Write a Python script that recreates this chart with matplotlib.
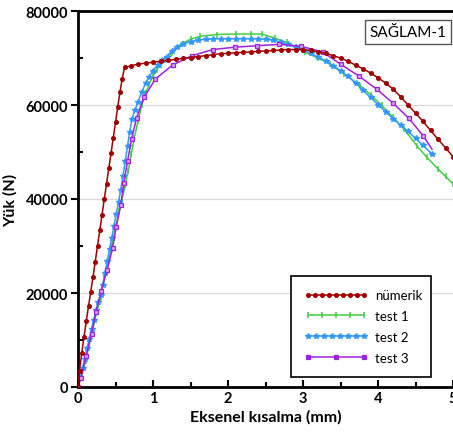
import matplotlib
matplotlib.use('Agg')
import matplotlib.pyplot as plt
from matplotlib.lines import Line2D
from matplotlib.legend_handler import HandlerLine2D
from matplotlib.ticker import MultipleLocator

plt.rcParams['font.family'] = ['Lato', 'DejaVu Sans']

# numerical model
num_x = [0, 0.02, 0.05, 0.08, 0.11, 0.14, 0.17, 0.20, 0.23, 0.26, 0.29, 0.32,
         0.35, 0.38, 0.41, 0.44, 0.47, 0.50, 0.53, 0.56, 0.59, 0.62,
         0.7, 0.8, 0.9, 1.0, 1.1, 1.2, 1.3, 1.4, 1.5, 1.6, 1.7, 1.8, 1.9, 2.0,
         2.1, 2.2, 2.3, 2.4, 2.5, 2.6, 2.7, 2.8, 2.9, 3.0, 3.1, 3.2, 3.3, 3.4,
         3.5, 3.6, 3.7, 3.8, 3.9, 4.0, 4.1, 4.2, 4.3, 4.4, 4.5, 4.6, 4.7, 4.8,
         4.9, 5.0]
num_y = [0, 3500, 7200, 10700, 14000, 17200, 20300, 23400, 26700, 30000, 33300, 36600,
         39900, 43200, 46500, 49700, 53000, 56300, 59600, 62800, 65600, 68000,
         68300, 68700, 68900, 69100, 69300, 69500, 69700, 69900, 70100, 70300, 70500, 70700, 70900, 71000,
         71100, 71200, 71300, 71400, 71500, 71600, 71700, 71800, 71800, 71800, 71600, 71300, 71000, 70500,
         70000, 69300, 68500, 67700, 66800, 65800, 64700, 63400, 61800, 60000, 58300, 56500, 54600, 52700,
         50900, 49000]

# test 1
t1_x = [0, 0.05, 0.1, 0.15, 0.2, 0.25, 0.3, 0.35, 0.4, 0.45, 0.5, 0.55, 0.59, 0.63,
        0.67, 0.71, 0.75, 0.8, 0.85, 0.9, 0.95, 1.0, 1.05, 1.1, 1.16, 1.25, 1.38,
        1.5, 1.63, 1.85, 2.1, 2.3, 2.45, 2.63, 2.78, 2.9, 3.03, 3.2, 3.36, 3.55,
        3.76, 3.9, 4.05, 4.2, 4.35, 4.52, 4.65, 4.8, 4.9, 5.0]
t1_y = [0, 2500, 5500, 9000, 12500, 16000, 19000, 23000, 26500, 30000, 34000, 37500, 40000, 43000,
        46000, 49500, 53000, 56500, 60000, 62500, 64500, 66200, 67500, 68600, 69600, 71000, 73000,
        74000, 74600, 75000, 75100, 75100, 75100, 74200, 73300, 72300, 71200, 70000, 68700, 66600,
        64100, 62200, 59900, 57400, 54800, 51300, 48900, 46400, 44800, 43200]

# test 2
t2_x = [0, 0.03, 0.06, 0.09, 0.12, 0.15, 0.18, 0.21, 0.24, 0.27, 0.30, 0.33, 0.36,
        0.39, 0.42, 0.45, 0.48, 0.51, 0.54, 0.57, 0.60, 0.63, 0.66, 0.69, 0.72,
        0.76, 0.80, 0.85, 0.90, 0.95, 1.0, 1.06, 1.12, 1.18, 1.25, 1.32, 1.4, 1.5,
        1.6, 1.7, 1.8, 1.9, 2.0, 2.1, 2.2, 2.3, 2.4, 2.5, 2.6, 2.7, 2.8, 2.9, 3.0,
        3.1, 3.2, 3.3, 3.4, 3.5, 3.6, 3.7, 3.8, 3.9, 4.0, 4.1, 4.2, 4.3, 4.4, 4.5,
        4.6, 4.72]
t2_y = [0, 2000, 4000, 6000, 8200, 10300, 12300, 14300, 16300, 18000, 19600, 21800, 24300,
        26800, 29300, 31800, 34300, 36800, 39300, 42000, 45000, 48000, 51300, 54300, 57000,
        59000, 60600, 62800, 64600, 66000, 67300, 68500, 69500, 70300, 71500, 72400, 73000, 73500,
        73800, 74000, 74100, 74100, 74100, 74100, 74100, 74100, 74100, 74000, 73800, 73400, 72900, 72300, 71700,
        71000, 70200, 69400, 68400, 67300, 66100, 64700, 63100, 61600, 60100, 58600, 57100, 55700, 54400, 52900,
        51400, 49600]

# test 3
t3_x = [0, 0.04, 0.11, 0.18, 0.24, 0.31, 0.39, 0.46, 0.51, 0.57, 0.61, 0.66, 0.715,
        0.78, 0.88, 1.03, 1.26, 1.52, 1.80, 2.09, 2.38, 2.68, 2.97, 3.26, 3.5, 3.75,
        3.98, 4.2, 4.41, 4.6, 4.72]
t3_y = [0, 2000, 6700, 11300, 15900, 20500, 25000, 29500, 34100, 38700, 43400, 48000, 52800,
        57200, 61600, 65500, 68500, 70500, 71800, 72300, 72600, 72900, 72500, 71300, 68700, 66100,
        63400, 60400, 57200, 53500, 50600]

labels = ['nümerik', 'test 1', 'test 2', 'test 3']

c_num = '#A00000'
c_t1 = '#44CC44'
c_t2 = '#3399FF'
c_t3 = '#A020E0'

fig = plt.figure(figsize=(4.53, 4.39), dpi=100)
ax = fig.add_axes([78 / 453, 51 / 439, 375 / 453, 376 / 439])

st_num = dict(color=c_num, lw=1.1, marker='o', ms=2.6)
st_t1 = dict(color=c_t1, lw=1.1, marker='|', ms=4, mew=1.1)
st_t2 = dict(color=c_t2, lw=1.1, marker='*', ms=3.8)
st_t3 = dict(color=c_t3, lw=1.1, marker='s', ms=3.4, mfc='#CFA0F0', mec=c_t3, mew=0.9)

ax.plot(num_x, num_y, zorder=3, **st_num)
ax.plot(t1_x, t1_y, zorder=2, **st_t1)
ax.plot(t2_x, t2_y, zorder=2, **st_t2)
ax.plot(t3_x, t3_y, markevery=list(range(len(t3_x) - 1)), zorder=2, **st_t3)

ax.set_xlim(0, 5)
ax.set_ylim(0, 80000)
ax.xaxis.set_major_locator(MultipleLocator(1))
ax.xaxis.set_minor_locator(MultipleLocator(0.5))
ax.yaxis.set_major_locator(MultipleLocator(20000))
ax.yaxis.set_minor_locator(MultipleLocator(10000))
ax.tick_params(axis='x', which='major', direction='in', length=5, width=1.5, labelsize=10.5, pad=3)
ax.tick_params(axis='x', which='minor', direction='in', length=3.5, width=1.5)
ax.tick_params(axis='y', which='major', direction='out', length=5, width=1.5, labelsize=10.5, pad=2)
ax.tick_params(axis='y', which='minor', direction='in', length=3.5, width=1.5)
for lab in ax.get_xticklabels() + ax.get_yticklabels():
    lab.set_fontweight('bold')

ax.grid(axis='y', which='major', color='#D9D9D9', lw=0.9, zorder=0)
ax.set_axisbelow(True)
for s in ['left', 'bottom', 'top']:
    ax.spines[s].set_linewidth(2)
ax.spines['right'].set_visible(False)

ax.set_xlabel('Eksenel kısalma (mm)', fontsize=11.5, fontweight='bold', labelpad=3)
ax.set_ylabel('Yük (N)', fontsize=11.5, fontweight='bold', labelpad=6)

ax.text(0.88, 0.944, 'SAĞLAM-1', transform=ax.transAxes, ha='center', va='center', fontsize=11,
        bbox=dict(boxstyle='square,pad=0.3', fc='white', ec='#555555', lw=1))

st_t3_leg = dict(st_t3, mfc=c_t3)
handles = [Line2D([0], [0], **st_num), Line2D([0], [0], **st_t1),
           Line2D([0], [0], **st_t2), Line2D([0], [0], **st_t3_leg)]
hmap = {handles[0]: HandlerLine2D(numpoints=9), handles[1]: HandlerLine2D(numpoints=5),
        handles[2]: HandlerLine2D(numpoints=8), handles[3]: HandlerLine2D(numpoints=3)}
leg = ax.legend(handles, labels, handler_map=hmap,
                loc='lower left', bbox_to_anchor=(0.568, 0.027, 0.373, 0.282), mode='expand',
                borderaxespad=0, fontsize=9.5, frameon=True, fancybox=False, framealpha=1,
                edgecolor='black', handlelength=4.8, labelspacing=0.67, borderpad=1.0,
                handletextpad=0.6)
leg.get_frame().set_linewidth(1.2)

fig.savefig('out.png', dpi=100)
